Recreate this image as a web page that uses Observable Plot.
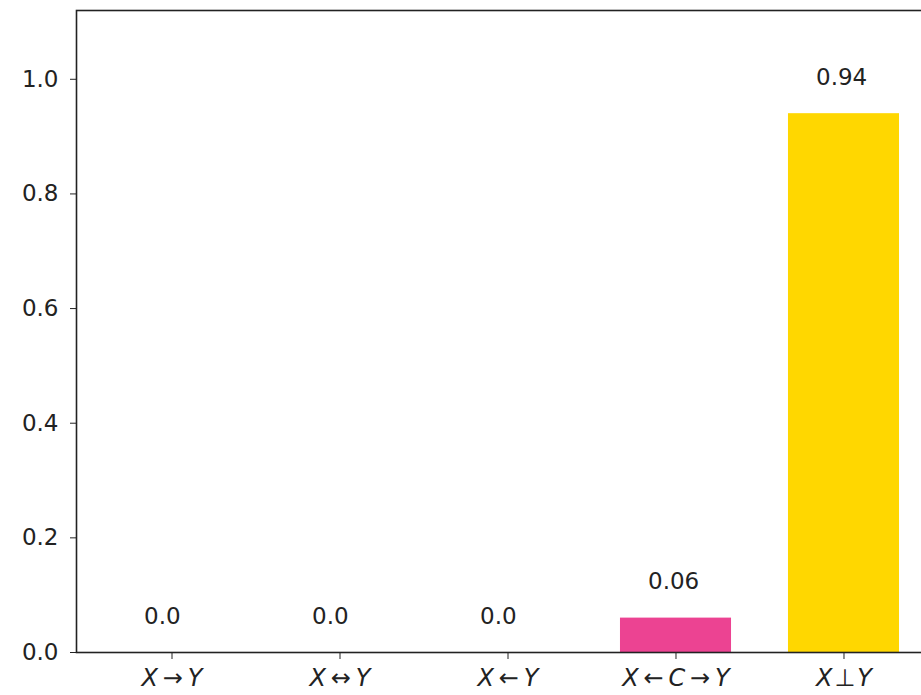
<!DOCTYPE html>
<html>
<head>
<meta charset="utf-8">
<script src="https://cdn.jsdelivr.net/npm/d3@7"></script>
<script src="https://cdn.jsdelivr.net/npm/@observablehq/plot@0.6"></script>
<style>
  html, body { margin: 0; padding: 0; background: #fff; overflow: hidden; }
  #chart svg { max-width: none; overflow: visible; }
</style>
</head>
<body>
<div id="chart"></div>
<script>
// Causal-structure categories and their estimated probabilities
const relations = ["X→Y", "X↔Y", "X←Y", "X←C→Y", "X⊥Y"];
const probabilities = [0.0, 0.0, 0.0, 0.06, 0.94];
const barColors = ["#1f77b4", "#2ca02c", "#9467bd", "#ec4392", "#ffd700"];
const yTicks = [0.0, 0.2, 0.4, 0.6, 0.8, 1.0];

const rows = relations.map((r, i) => ({relation: r, p: probabilities[i], color: barColors[i]}));

const font = "DejaVu Sans, sans-serif";

const chart = Plot.plot({
  width: 921,
  height: 695,
  marginTop: 10,
  marginBottom: 43,
  marginLeft: 76,
  marginRight: -18,
  style: {fontFamily: font, fontSize: "23px", color: "#222", background: "#fff"},
  x: {
    domain: relations,
    paddingInner: 0.339,
    paddingOuter: 0.238,
    round: false,
    label: null
  },
  y: {domain: [0, 1.12], label: null},
  marks: [
    Plot.barY(rows, {x: "relation", y: "p", fill: "color"}),
    // value labels, left-aligned slightly left of each bar's centre
    Plot.text(rows, {
      x: "relation",
      y: "p",
      text: d => d.p.toFixed(2).replace(/0$/, "").replace(/\.$/, ".0"),
      dx: -28,
      dy: -29,
      textAnchor: "start",
      lineAnchor: "bottom",
      fill: "#222",
      fontSize: 23
    }),
    Plot.axisY({ticks: yTicks, tickFormat: ".1f", tickSize: 6, tickPadding: 12, fontSize: 23, label: null}),
    Plot.axisX({tickSize: 7, tickPadding: 9, fontSize: 24, label: null}),
    Plot.frame({stroke: "#222", strokeWidth: 1.6})
  ]
});

document.getElementById("chart").appendChild(chart);

// Typeset tick labels like math: italic variables, upright relation symbols with spacing
d3.select(chart).selectAll('g[aria-label="x-axis tick label"] text').each(function () {
  const el = d3.select(this);
  const s = el.text();
  el.text(null);
  [...s].forEach((ch, i) => {
    const isVar = /[A-Z]/.test(ch);
    el.append("tspan")
      .attr("font-style", isVar ? "italic" : "normal")
      .attr("dx", i === 0 ? null : (ch === "⊥" || s[i - 1] === "⊥") ? "0.08em" : "0.2em")
      .text(ch);
  });
});
</script>
</body>
</html>
